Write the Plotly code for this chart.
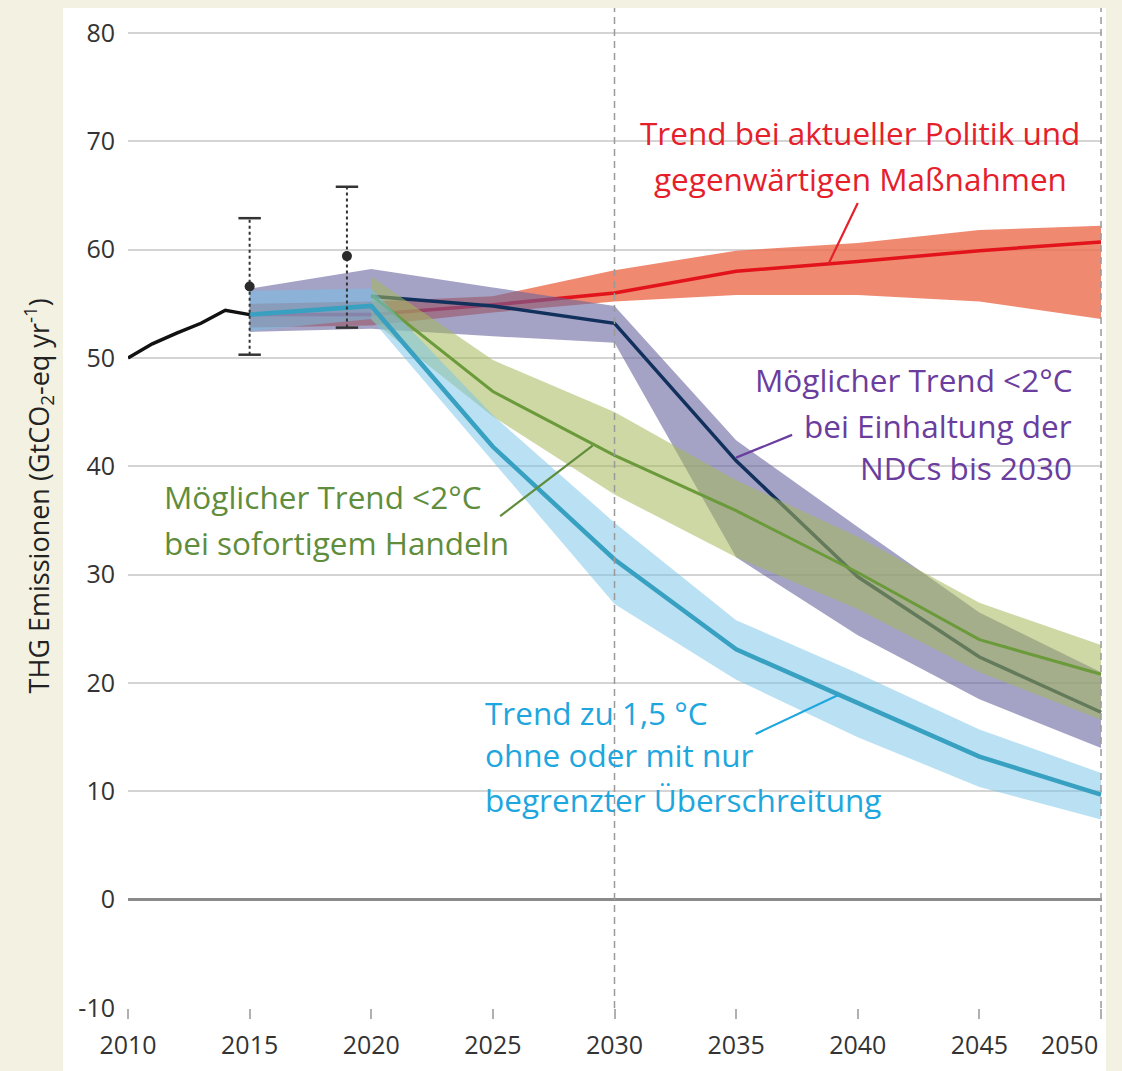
import plotly.graph_objects as go

# ---------------- data ----------------
hist_years = [2010, 2011, 2012, 2013, 2014, 2015]
hist_vals = [50.0, 51.3, 52.3, 53.2, 54.4, 54.0]

err_years = [2015, 2019]
err_mid = [56.6, 59.4]
err_low = [50.3, 52.8]
err_high = [62.9, 65.8]

band_years = [2015, 2020, 2025, 2030, 2035, 2040, 2045, 2050]
green_years = [2020, 2025, 2030, 2035, 2040, 2045, 2050]
ndc_line_years = [2020, 2025, 2030, 2035, 2040, 2045, 2050]

red_upper = [55.0, 55.2, 55.7, 58.1, 59.9, 60.6, 61.8, 62.2]
red_lower = [52.8, 53.0, 54.2, 55.2, 55.8, 55.8, 55.2, 53.6]
red_mid = [54.0, 54.0, 54.9, 56.0, 58.0, 58.9, 59.9, 60.7]

ndc_upper = [56.4, 58.2, 56.5, 54.8, 42.4, 34.4, 26.5, 21.0]
ndc_lower = [52.4, 52.7, 52.0, 51.4, 31.6, 24.4, 18.5, 14.0]
ndc_mid = [55.7, 54.8, 53.2, 40.5, 29.8, 22.4, 17.3]

green_upper = [57.5, 49.8, 45.0, 38.7, 33.5, 27.4, 23.5]
green_lower = [53.5, 44.6, 37.4, 31.6, 26.8, 21.0, 16.6]
green_mid = [55.8, 46.9, 41.0, 35.9, 30.2, 24.0, 20.8]

blue_upper = [56.2, 56.4, 44.7, 34.8, 25.8, 20.9, 15.7, 11.7]
blue_lower = [52.5, 53.6, 40.5, 27.3, 20.3, 15.0, 10.4, 7.4]
blue_mid = [54.0, 54.8, 41.8, 31.4, 23.1, 18.2, 13.2, 9.7]

x_ticks = [2010, 2015, 2020, 2025, 2030, 2035, 2040, 2045, 2050]
# last label is drawn separately (shifted inward so it fits the frame)
x_tick_labels = ["2010", "2015", "2020", "2025", "2030", "2035", "2040",
                 "2045", ""]
last_x_label = "2050"
y_ticks = [-10, 0, 10, 20, 30, 40, 50, 60, 70, 80]
y_tick_labels = ["-10", "0", "10", "20", "30", "40", "50", "60", "70", "80"]
ref_years = [2030, 2050]

FONT = "Open Sans"
RED_TXT = "#e5202a"
PUR_TXT = "#6a3d9e"
GRN_TXT = "#5f8d3c"
BLU_TXT = "#1ea6de"
CREAM = "#f3f1e1"

fig = go.Figure()


def band(xs, up, lo, color):
    fig.add_trace(go.Scatter(
        x=list(xs) + list(xs)[::-1], y=list(up) + list(lo)[::-1],
        fill="toself", fillcolor=color, mode="lines",
        line=dict(width=0, color="rgba(0,0,0,0)"), hoverinfo="skip",
        showlegend=False))


def line(xs, ys, color, width):
    fig.add_trace(go.Scatter(x=xs, y=ys, mode="lines",
                             line=dict(color=color, width=width),
                             showlegend=False))


band(band_years, red_upper, red_lower, "rgba(236,111,81,0.82)")
line(band_years, red_mid, "#e3131c", 3.5)
band(band_years, ndc_upper, ndc_lower, "rgba(104,102,160,0.6)")
line(ndc_line_years, ndc_mid, "#12305c", 3.5)
band(green_years, green_upper, green_lower, "rgba(166,184,91,0.55)")
line(green_years, green_mid, "#6a9a3a", 3)
band(band_years, blue_upper, blue_lower, "rgba(116,196,232,0.5)")
line(band_years, blue_mid, "#38a0c0", 4.5)
line(hist_years, hist_vals, "#111111", 3.5)

# error bars (dotted)
for yr, lo, hi in zip(err_years, err_low, err_high):
    fig.add_trace(go.Scatter(x=[yr, yr], y=[lo, hi], mode="lines",
                             line=dict(color="#333333", width=2, dash="dot"),
                             showlegend=False))
fig.add_trace(go.Scatter(x=err_years + err_years, y=err_low + err_high,
                         mode="markers",
                         marker=dict(symbol="line-ew", size=16,
                                     line=dict(color="#333333", width=2.5)),
                         showlegend=False))
fig.add_trace(go.Scatter(x=err_years, y=err_mid, mode="markers",
                         marker=dict(symbol="circle", size=10, color="#2b2b2b"),
                         showlegend=False))

shapes = []
# white panel behind plot
shapes.append(dict(type="rect", xref="paper", yref="paper",
                   x0=-0.0667, x1=1.004, y0=-0.08, y1=1.0,
                   fillcolor="white", line=dict(width=0), layer="below"))
for ry in ref_years:
    shapes.append(dict(type="line", xref="x", yref="paper", x0=ry, x1=ry,
                       y0=0, y1=1, line=dict(color="#9a9a9a", width=1.5,
                                             dash="7px,5px"), layer="above"))
# leader lines
leaders = [
    (2040.0, 64.3, 2038.8, 58.7, RED_TXT),
    (2037.3, 42.9, 2035.0, 40.8, PUR_TXT),
    (2025.3, 35.4, 2029.1, 41.9, GRN_TXT),
    (2035.8, 15.3, 2039.2, 18.9, BLU_TXT),
]
for x0, y0, x1, y1, c in leaders:
    shapes.append(dict(type="line", xref="x", yref="y", x0=x0, y0=y0,
                       x1=x1, y1=y1, line=dict(color=c, width=2.2)))

ann = []


def txt(x, y, s, color, anchor):
    ann.append(dict(x=x, y=y, xref="x", yref="y", text=s, showarrow=False,
                    xanchor=anchor, yanchor="middle",
                    font=dict(family=FONT, size=31.5, color=color)))


txt(2040.1, 70.8, "Trend bei aktueller Politik und", RED_TXT, "center")
txt(2040.1, 66.6, "gegenwärtigen Maßnahmen", RED_TXT, "center")
txt(2048.9, 48.0, "Möglicher Trend &lt;2°C", PUR_TXT, "right")
txt(2048.9, 43.8, "bei Einhaltung der", PUR_TXT, "right")
txt(2048.9, 39.9, "NDCs bis 2030", PUR_TXT, "right")
txt(2011.4, 37.2, "Möglicher Trend &lt;2°C", GRN_TXT, "left")
txt(2011.4, 33.0, "bei sofortigem Handeln", GRN_TXT, "left")
txt(2024.6, 17.3, "Trend zu 1,5 °C", BLU_TXT, "left")
txt(2024.6, 13.4, "ohne oder mit nur", BLU_TXT, "left")
txt(2024.6, 9.2, "begrenzter Überschreitung", BLU_TXT, "left")

ann.append(dict(x=-0.092, y=0.512, xref="paper", yref="paper",
                text="THG Emissionen (GtCO<sub>2</sub>-eq yr<sup>-1</sup>)",
                textangle=-90, showarrow=False, xanchor="center",
                yanchor="middle",
                font=dict(family=FONT, size=27, color="#222222")))

# last x tick label, pulled inside the frame as in the reference
ann.append(dict(x=x_ticks[-1], y=0, xref="x", yref="paper",
                text=last_x_label, showarrow=False, xanchor="right",
                yanchor="middle", xshift=-1, yshift=-36,
                font=dict(family=FONT, size=25, color="#333333")))

# page has an 8px body margin; size the figure to fit the window
fig.update_layout(
    width=1114, height=1063,
    margin=dict(l=120, r=20, t=0, b=63),
    paper_bgcolor=CREAM,
    plot_bgcolor="#f4f4f4",
    shapes=shapes, annotations=ann, showlegend=False,
    font=dict(family=FONT, color="#333333"),
)
fig.update_xaxes(range=[2010, 2050.04], tickvals=x_ticks,
                 ticktext=x_tick_labels,
                 showgrid=False, zeroline=False,
                 ticks="outside", ticklen=10, tickwidth=1.5, tickcolor="#b0b0b0",
                 showline=False, ticklabelstandoff=5,
                 tickfont=dict(family=FONT, size=25, color="#333333"))
fig.update_yaxes(range=[-10, 82.3], tickvals=y_ticks, ticktext=y_tick_labels,
                 showgrid=True, gridcolor="#d4d4d4", gridwidth=1.5,
                 zeroline=True, zerolinecolor="#8a8a8a", zerolinewidth=3,
                 ticks="", ticklabelstandoff=12,
                 tickfont=dict(family=FONT, size=25, color="#333333"))

fig.write_html("out.html",
               post_script="document.body.style.background='%s';" % CREAM)
